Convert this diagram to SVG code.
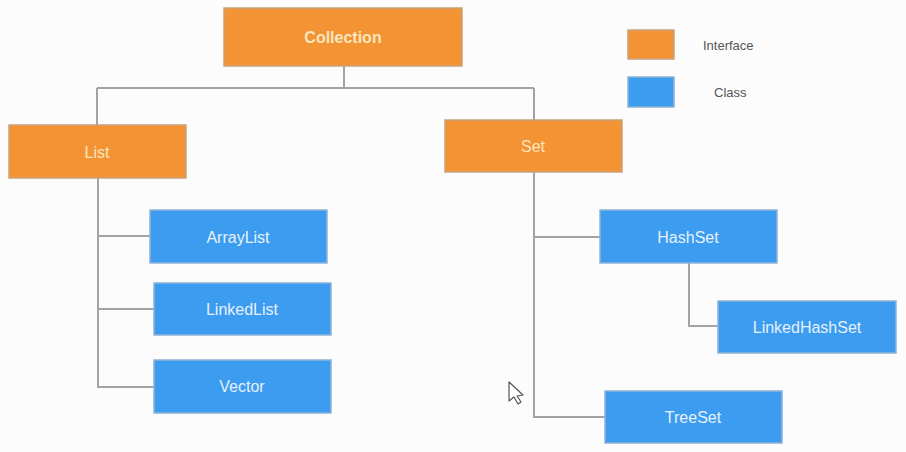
<svg xmlns="http://www.w3.org/2000/svg" width="906" height="452" viewBox="0 0 906 452">
<style>
.bg{fill:#fcfcfc}
.iface{fill:#f39334;stroke:#c9a27c;stroke-width:1.5}
.cls{fill:#3c9cf0;stroke:#8fb3d6;stroke-width:1.5}
.t{font-family:"Liberation Sans",Arial,sans-serif;font-size:16px;text-anchor:middle;dominant-baseline:central}
.ti{fill:#fbe6bf}
.tc{fill:#e6f1fd}
.leg{font-family:"Liberation Sans",Arial,sans-serif;font-size:13px;fill:#555;dominant-baseline:central}
.ln{fill:none;stroke:#a3a3a3;stroke-width:2}
</style>
<rect class="bg" x="0" y="0" width="906" height="452"/>
<g id="connectors">
<path class="ln" d="M344 66V88M97 88H534M97 88V125M534 88V120"/>
<path class="ln" d="M98 178V387H154M98 236H150M98 309H154"/>
<path class="ln" d="M534 172V417H605M534 237H600"/>
<path class="ln" d="M689 263V326H718"/>
</g>
<g id="collection"><rect class="iface" x="224" y="8" width="238" height="58"/><text class="t ti" x="343" y="37" font-weight="bold">Collection</text></g>
<g id="list"><rect class="iface" x="9" y="125" width="177" height="53"/><text class="t ti" x="97" y="152">List</text></g>
<g id="set"><rect class="iface" x="445" y="120" width="177" height="52"/><text class="t ti" x="533" y="146">Set</text></g>
<g id="arraylist"><rect class="cls" x="150" y="210" width="177" height="53"/><text class="t tc" x="238" y="237">ArrayList</text></g>
<g id="linkedlist"><rect class="cls" x="154" y="283" width="177" height="52"/><text class="t tc" x="242" y="309">LinkedList</text></g>
<g id="vector"><rect class="cls" x="154" y="360" width="177" height="53"/><text class="t tc" x="242" y="386">Vector</text></g>
<g id="hashset"><rect class="cls" x="600" y="210" width="177" height="53"/><text class="t tc" x="688" y="237">HashSet</text></g>
<g id="linkedhashset"><rect class="cls" x="718" y="301" width="178" height="52"/><text class="t tc" x="807" y="327">LinkedHashSet</text></g>
<g id="treeset"><rect class="cls" x="605" y="391" width="177" height="52"/><text class="t tc" x="693" y="417">TreeSet</text></g>
<g id="legend">
<rect class="iface" x="628" y="30" width="46" height="29"/>
<text class="leg" x="703" y="45">Interface</text>
<rect class="cls" x="628" y="77" width="46" height="30"/>
<text class="leg" x="714" y="92">Class</text>
</g>
<path d="M509 382L509 401L514 397L518 404L521 402L517 396L523 395Z" fill="#fff" stroke="#555" stroke-width="1.2" stroke-linejoin="round"/>
</svg>
